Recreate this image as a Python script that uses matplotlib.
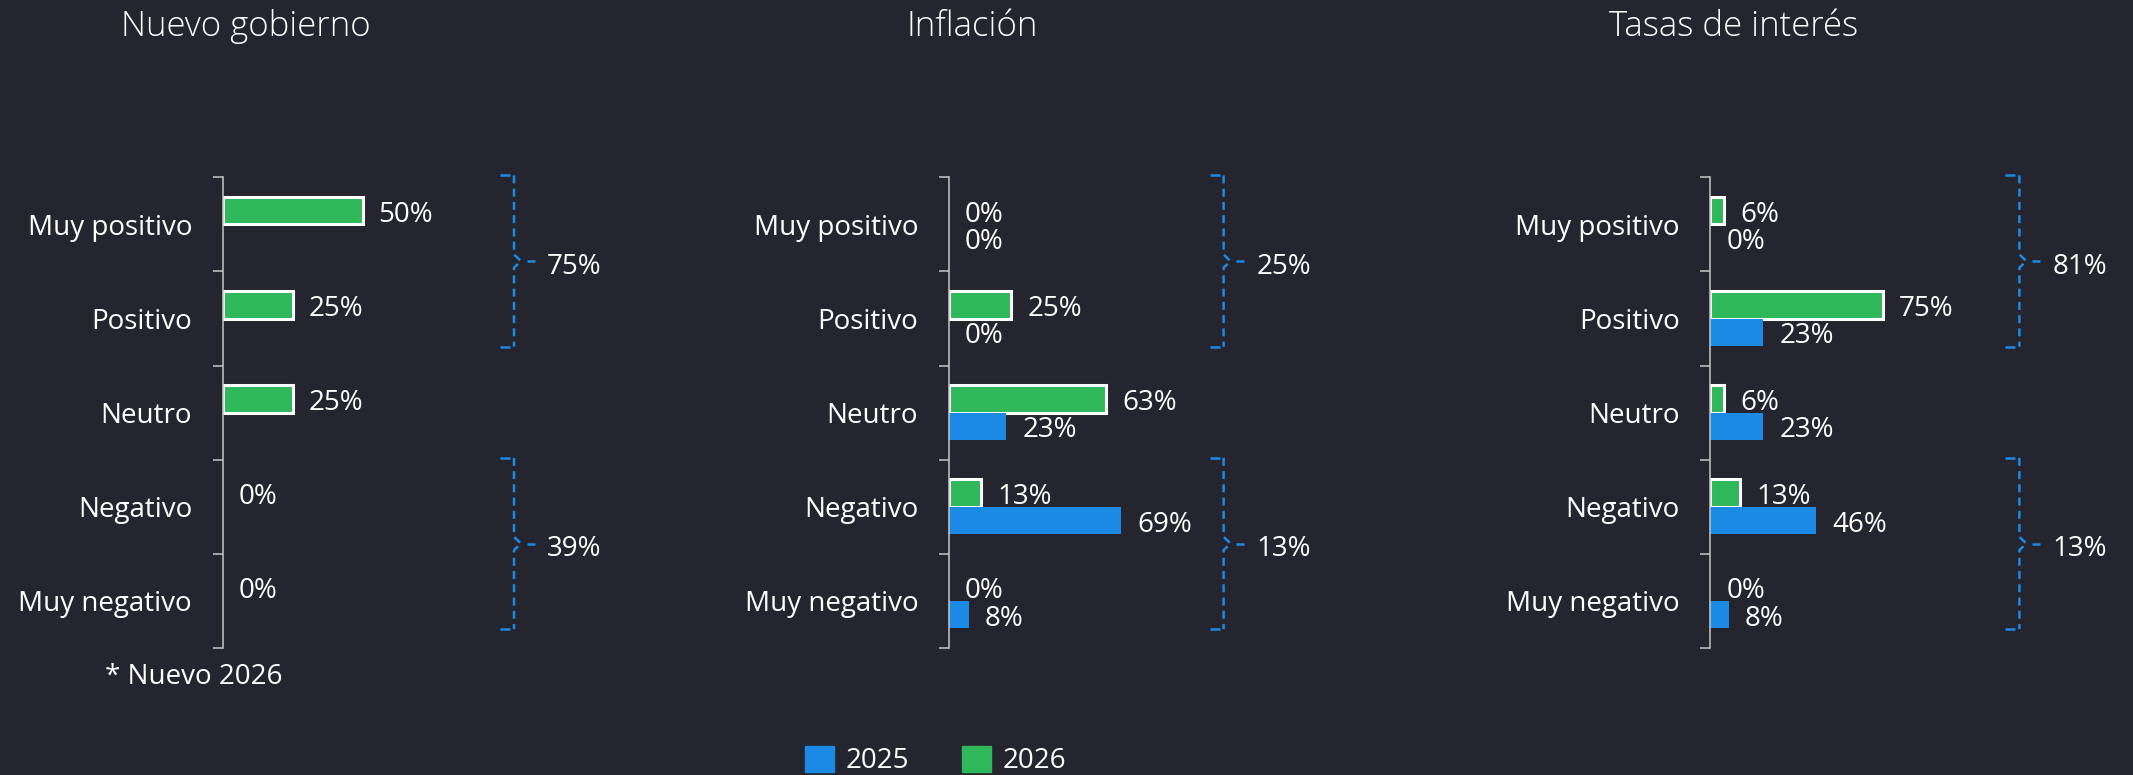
import matplotlib
matplotlib.use('Agg')
import matplotlib.pyplot as plt
from matplotlib.patches import Patch
from matplotlib.transforms import blended_transform_factory
import numpy as np

plt.rcParams['font.family'] = ['Open Sans', 'DejaVu Sans']

# ---- datos ----
categorias = ['Muy positivo', 'Positivo', 'Neutro', 'Negativo', 'Muy negativo']
titulos = ['Nuevo gobierno', 'Inflación', 'Tasas de interés']

# % por categoría (2026 verde, 2025 azul); "Nuevo gobierno" no tiene 2025
v2026 = [[50, 25, 25, 0, 0],
         [0, 25, 63, 13, 0],
         [6, 75, 6, 13, 0]]
v2025 = [None,
         [0, 0, 23, 69, 8],
         [0, 23, 23, 46, 8]]

# llaves: totales de positivos y negativos
llave_pos = ['75%', '25%', '81%']
llave_neg = ['39%', '13%', '13%']
grupo_pos = (0, 1)
grupo_neg = (3, 4)

# ---- estilo ----
fondo = '#24252e'
verde = '#2eb85a'
azul = '#1a8ae4'
gris = '#c8c8c8'

# ---- layout (pixeles de la figura) ----
W, H = 2133, 775
eje_x = [222.6, 948.8, 1710.3]
llave_x = [514.0, 1223.6, 2019.4]
px_por_pct = [2.8, 2.5, 2.305]
top_px, bot_px = 177.3, 648.0
alto_barra = 0.29

fig = plt.figure(figsize=(W / 100, H / 100), dpi=100, facecolor=fondo)


def llave(ax, ancho_px, g, texto):
    # llave punteada a la derecha de cada panel
    tr = blended_transform_factory(ax.transAxes, ax.transData)
    f = lambda px: 1 + px / ancho_px
    top = g[0] - 0.52
    bot = g[1] + 0.30
    mid = (top + bot) / 2
    d = 0.07
    # brazos cortos arriba y abajo
    ax.plot([f(-14), f(-4)], [top, top], color=azul, lw=1.8, transform=tr,
            clip_on=False, solid_capstyle='butt')
    ax.plot([f(-14), f(-4)], [bot, bot], color=azul, lw=1.8, transform=tr,
            clip_on=False, solid_capstyle='butt')
    xs = [f(0), f(0), f(7), f(0), f(0)]
    ys = [top, mid - d, mid, mid + d, bot]
    ax.plot(xs, ys, color=azul, lw=1.8, ls=(0, (3.2, 2.1)), transform=tr,
            clip_on=False, dash_capstyle='butt')
    ax.plot([f(12.5), f(20.5)], [mid, mid], color=azul, lw=1.8, transform=tr,
            clip_on=False, solid_capstyle='butt')
    ax.annotate(texto, xy=(f(33), mid), xycoords=tr, xytext=(0, -4),
                textcoords='offset points', color='white', fontsize=20,
                ha='left', va='center', annotation_clip=False)


y = np.arange(len(categorias))

for i in range(3):
    ancho_px = llave_x[i] - eje_x[i]
    ax = fig.add_axes([eje_x[i] / W, 1 - bot_px / H, ancho_px / W,
                       (bot_px - top_px) / H])
    ax.set_facecolor('none')
    ax.set_xlim(0, ancho_px / px_por_pct[i])
    ax.set_ylim(len(categorias) - 0.5, -0.5)

    # barras 2026 con borde blanco
    bordes = ['white' if v > 0 else 'none' for v in v2026[i]]
    ax.barh(y - alto_barra / 2, v2026[i], height=alto_barra, color=verde,
            edgecolor=bordes, linewidth=2.2)
    for yy, v in zip(y, v2026[i]):
        ax.annotate(f'{v}%', xy=(v, yy - alto_barra / 2), xytext=(11.5, -3),
                    textcoords='offset points', va='center', ha='left',
                    color='white', fontsize=20)

    if v2025[i] is not None:
        ax.barh(y + alto_barra / 2, v2025[i], height=alto_barra, color=azul,
                linewidth=0)
        for yy, v in zip(y, v2025[i]):
            ax.annotate(f'{v}%', xy=(v, yy + alto_barra / 2), xytext=(11.5, -3),
                        textcoords='offset points', va='center', ha='left',
                        color='white', fontsize=20)

    for s in ['top', 'right', 'bottom']:
        ax.spines[s].set_visible(False)
    ax.spines['left'].set_color(gris)
    ax.spines['left'].set_linewidth(1.1)
    ax.set_xticks([])
    ax.set_yticks(y)
    ax.set_yticklabels(categorias)
    ax.set_yticks(np.arange(-0.5, len(categorias), 1), minor=True)
    ax.tick_params(axis='y', which='major', length=0, pad=22, labelsize=20,
                   labelcolor='white')
    ax.tick_params(axis='y', which='minor', length=7.4, width=1.1, color=gris,
                   direction='out')

    llave(ax, ancho_px, grupo_pos, llave_pos[i])
    llave(ax, ancho_px, grupo_neg, llave_neg[i])

    fig.text((eje_x[i] + 23) / W, 1 - 27 / H, titulos[i], ha='center',
             va='center', fontsize=25, fontweight='light', color='white')

fig.text(194 / W, 1 - 677 / H, '* Nuevo 2026', ha='center', va='center',
         fontsize=20, color='white')

fig.legend(handles=[Patch(color=azul, label='2025'),
                    Patch(color=verde, label='2026')],
           loc='upper center', bbox_to_anchor=(935.5 / W, 1 - 746 / H), ncol=2,
           frameon=False, fontsize=20, handlelength=1.05, handleheight=1.05,
           handletextpad=0.42, columnspacing=1.9, borderpad=0,
           borderaxespad=0, labelcolor='white')

fig.savefig('out.png', dpi=100, facecolor=fondo)
